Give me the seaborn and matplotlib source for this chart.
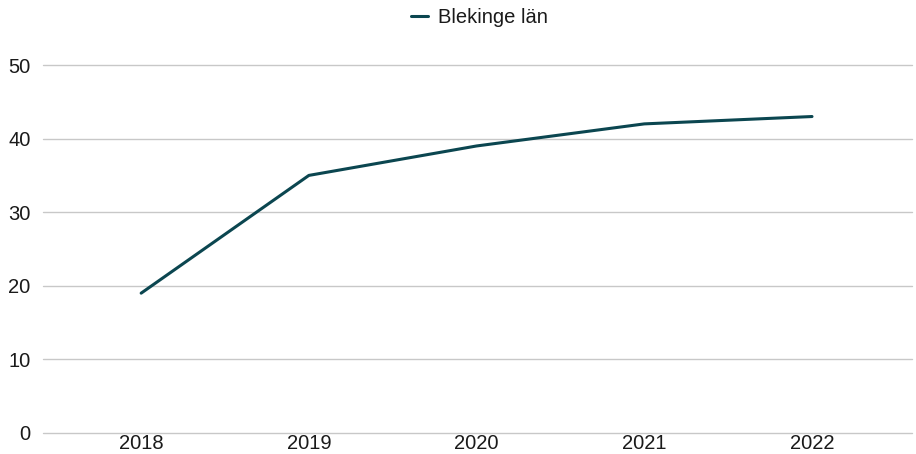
import matplotlib
matplotlib.use('Agg')
import matplotlib.pyplot as plt
import seaborn as sns
import pandas as pd

years = ['2018', '2019', '2020', '2021', '2022']
values = [19, 35, 39, 42, 43]
series = 'Blekinge län'

df = pd.DataFrame({'year': years, 'value': values, 'series': series})

sns.set_style('white')
plt.rcParams['font.family'] = ['Liberation Sans', 'DejaVu Sans']

fig = plt.figure(figsize=(9.16, 4.54), dpi=100)
ax = fig.add_axes([0.047, 0.0463, 0.9486, 0.8105])

sns.lineplot(data=df, x='year', y='value', hue='series', palette=['#0b4650'],
             linewidth=2.2, ax=ax, sort=False)

ax.set_ylim(0, 50)
ax.set_yticks([0, 10, 20, 30, 40, 50])
ax.set_xlim(-0.585, 4.596)
ax.grid(axis='y', color='#c8c8c8', linewidth=1)
for gl in ax.get_ygridlines():
    gl.set_clip_on(False)
ax.set_axisbelow(True)
for s in ax.spines.values():
    s.set_visible(False)
ax.tick_params(axis='both', length=0, labelsize=14.5, colors='#1a1a1a')
ax.tick_params(axis='y', pad=9)
ax.tick_params(axis='x', pad=1)
ax.set_xlabel('')
ax.set_ylabel('')

handles, labels = ax.get_legend_handles_labels()
leg = ax.legend(handles, labels, loc='center', bbox_to_anchor=(0.502, 1.128),
                frameon=False, fontsize=14.5, handlelength=0.85, handletextpad=0.5)
for t in leg.get_texts():
    t.set_color('#1a1a1a')

fig.savefig('out.png', dpi=100)
